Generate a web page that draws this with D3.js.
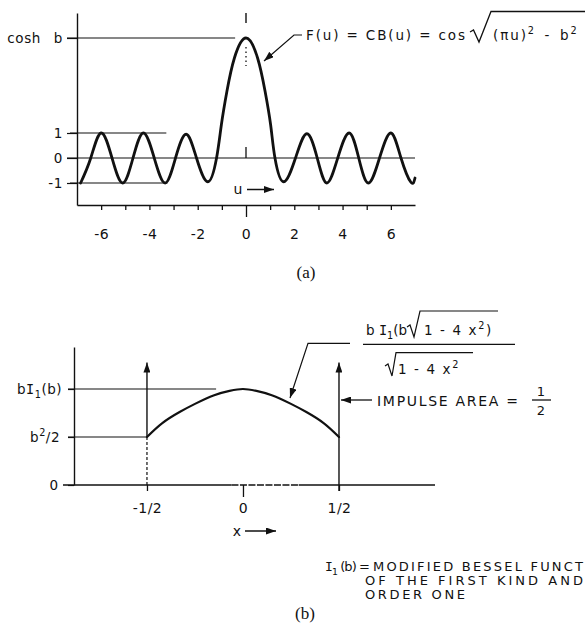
<!DOCTYPE html>
<html>
<head>
<meta charset="utf-8">
<script src="https://cdn.jsdelivr.net/npm/d3@7"></script>
<style>
  html, body { margin: 0; padding: 0; background: #fff; }
  svg { display: block; }
  text { font-family: "DejaVu Sans", sans-serif; fill: #111; }
  .serif { font-family: "Liberation Serif", "DejaVu Serif", serif; }
</style>
</head>
<body>
<svg id="fig" width="585" height="625"></svg>
<script>
// ---------- Panel (a): F(u) = CB(u) = cos sqrt((pi u)^2 - b^2) ----------
const uTicks = [-6, -5, -4, -3, -2, -1, 0, 1, 2, 3, 4, 5, 6];
const uTickLabels = ["-6", "", "-4", "", "-2", "", "0", "", "2", "", "4", "", "6"];
const levelsA = [4.8, 1, 0, -1];                 // cosh b, 1, 0, -1
const levelLabelsA = ["cosh b", "1", "0", "-1"];
// extrema and zero crossings of the pattern
const curveU = [-6.85, -6.43, -6.0, -5.55, -5.11, -4.68, -4.25, -3.8, -3.35, -2.92, -2.48, -2.05,
                -1.58, -1.22, -1.02, -0.79, -0.48, 0, 0.48, 0.79, 1.02, 1.2, 1.56, 2.05,
                2.52, 2.95, 3.35, 3.8, 4.27, 4.67, 5.07, 5.53, 6.0, 6.42, 6.83, 7.0];
const curveF = [-1, 0, 1, 0, -1, 0, 1, 0, -1, 0, 0.95, 0,
                -0.95, 0, 1.33, 2.67, 4.0, 4.8, 4.0, 2.67, 1.33, 0, -0.95, 0,
                0.97, 0, -1, 0, 1, 0, -1, 0, 1, 0, -0.97, -0.8];

// ---------- Panel (b): aperture distribution ----------
const xTicks = [-0.5, 0, 0.5];
const xTickLabels = ["-1/2", "0", "1/2"];
const levelsB = [2, 1, 0];                       // bI1(b), b^2/2, 0
const impulseX = [-0.5, 0.5];
const impulseTop = 2.55;
const curveX = [-0.5, -0.42, -0.33, -0.25, -0.15, -0.07, 0, 0.07, 0.15, 0.25, 0.33, 0.42, 0.5];
const curveG = [1.0, 1.29, 1.52, 1.69, 1.87, 1.96, 2.0, 1.96, 1.87, 1.69, 1.52, 1.29, 1.0];

const svg = d3.select("#fig");
const ink = "#111";

// arrowhead marker
const defs = svg.append("defs");
defs.append("marker")
  .attr("id", "head").attr("viewBox", "0 0 10 7")
  .attr("refX", 10).attr("refY", 3.5)
  .attr("markerUnits", "userSpaceOnUse")
  .attr("markerWidth", 10).attr("markerHeight", 7)
  .attr("orient", "auto")
  .append("path").attr("d", "M0,0 L10,3.5 L0,7 Z").attr("fill", ink);

function line(g, pts, w, opts) {
  const p = g.append("path")
    .attr("d", d3.line()(pts))
    .attr("fill", "none").attr("stroke", ink)
    .attr("stroke-width", w || 1.3);
  if (opts && opts.dash) p.attr("stroke-dasharray", opts.dash);
  if (opts && opts.arrow) p.attr("marker-end", "url(#head)");
  return p;
}

// text with super/subscripts: parts = [[string, "n" | "sup" | "sub", family?]]
function rich(g, x, y, parts, size, anchor) {
  const t = g.append("text").attr("x", x).attr("y", y)
    .attr("font-size", size).attr("text-anchor", anchor || "start");
  let shift = 0;
  parts.forEach(([s, k, fam]) => {
    const target = k === "sup" ? -0.42 * size : k === "sub" ? 0.3 * size : 0;
    const ts = t.append("tspan").attr("dy", target - shift).text(s);
    if (k !== "n") ts.attr("font-size", size * 0.72);
    if (fam) ts.style("font-family", fam);
    shift = target;
  });
  return t;
}

// ================= Panel (a) =================
const gA = svg.append("g");
const xA = d3.scaleLinear().domain([-7, 7]).range([77, 415]);
const yA = d3.scaleLinear().domain([-1.88, 5.8]).range([205, 13]);

// level guides
line(gA, [[xA(-7) - 10, yA(4.8)], [xA(-0.45), yA(4.8)]], 1.2);
line(gA, [[xA(-7) - 7, yA(1)], [xA(-3.3), yA(1)]], 1.2);
line(gA, [[xA(-7) - 10, yA(0)], [xA(7), yA(0)]], 1.2);
line(gA, [[xA(-7) - 7, yA(-1)], [xA(-3.25), yA(-1)]], 1.2);

// left axis
const axA = gA.append("g").attr("transform", `translate(${xA(-7)},0)`)
  .call(d3.axisLeft(yA).tickValues(levelsA).tickSize(10).tickSizeOuter(0).tickFormat(""));
axA.select(".domain").attr("stroke", ink).attr("stroke-width", 1.4);
axA.selectAll(".tick line").attr("stroke", ink).attr("stroke-width", 1.2);
levelsA.forEach((v, i) => {
  gA.append("text").attr("x", 63).attr("y", yA(v) + 5)
    .attr("text-anchor", "end").attr("font-size", 13.5)
    .style("word-spacing", "8px").style("letter-spacing", "0.6px")
    .text(levelLabelsA[i]);
});

// bottom axis
const bxA = gA.append("g").attr("transform", `translate(0,${yA(-1.88)})`)
  .call(d3.axisBottom(xA).tickValues(uTicks).tickSize(5).tickSizeOuter(0).tickPadding(19)
    .tickFormat((d, i) => uTickLabels[i]));
bxA.select(".domain").attr("stroke", ink).attr("stroke-width", 1.4);
bxA.selectAll(".tick line").attr("stroke", ink).attr("stroke-width", 1.3)
  .attr("y2", d => d === 0 ? 12 : 5);
bxA.selectAll(".tick text").attr("font-size", 14).attr("fill", ink)
  .style("font-family", '"DejaVu Sans", sans-serif').style("letter-spacing", "0.5px").attr("dy", "0.71em");
bxA.attr("font-family", null).attr("font-size", null);

// centre markers at u = 0
line(gA, [[xA(0), 13], [xA(0), 23]], 1.4);
line(gA, [[xA(0), 47], [xA(0), 66]], 1.3, { dash: "1.5,3" });
line(gA, [[xA(0), yA(0) - 11], [xA(0), yA(0)]], 1.3);

// the pattern
gA.append("path")
  .attr("d", d3.line().x(d => xA(d[0])).y(d => yA(d[1])).curve(d3.curveNatural)(d3.zip(curveU, curveF)))
  .attr("fill", "none").attr("stroke", ink).attr("stroke-width", 2.8)
  .attr("stroke-linejoin", "round").attr("stroke-linecap", "round");

// u ->
gA.append("text").attr("x", 238).attr("y", 194).attr("text-anchor", "middle").attr("font-size", 14).text("u");
line(gA, [[247, 189.5], [274, 189.5]], 1.5, { arrow: true });

// formula callout
line(gA, [[302, 35], [294, 35], [264, 61]], 1.2, { arrow: true });
gA.append("text").attr("x", 306).attr("y", 39.5).attr("font-size", 13.5)
  .attr("textLength", 159).attr("lengthAdjust", "spacing").text("F(u) = CB(u) = cos");
line(gA, [[470, 32], [473.5, 30], [479, 42], [491, 11.5], [585, 11.5]], 1.3);
rich(gA, 493, 39.5, [["(πu)", "n"], ["2", "sup"], [" - b", "n"], ["2", "sup"]], 13.5)
  .style("letter-spacing", "1.9px").style("word-spacing", "2.5px");

// caption (a)
gA.append("text").attr("class", "serif").attr("x", 306).attr("y", 278)
  .attr("text-anchor", "middle").attr("font-size", 17).text("(a)");

// ================= Panel (b) =================
const gB = svg.append("g");
const xB = d3.scaleLinear().domain([-0.88, 1.0]).range([74, 435]);
const yB = d3.scaleLinear().domain([0, 2.875]).range([485, 347]);

// level guides
line(gB, [[xB(-0.88) - 6, yB(2)], [xB(-0.14), yB(2)]], 1.2);
line(gB, [[xB(-0.88) - 6, yB(1)], [xB(-0.5), yB(1)]], 1.2);

// left axis
const axB = gB.append("g").attr("transform", `translate(${xB(-0.88)},0)`)
  .call(d3.axisLeft(yB).tickValues(levelsB).tickSize(6).tickSizeOuter(0).tickFormat(""));
axB.select(".domain").attr("stroke", ink).attr("stroke-width", 1.4);
axB.selectAll(".tick line").attr("stroke", ink).attr("stroke-width", 1.2);
rich(gB, 62, yB(2) + 5, [["b", "n"], ["I", "n", '"DejaVu Sans Mono", monospace'], ["1", "sub"], ["(b)", "n"]], 13.5, "end")
  .style("letter-spacing", "0.5px");
rich(gB, 60, yB(1) + 5, [["b", "n"], ["2", "sup"], ["/2", "n"]], 13.5, "end")
  .style("letter-spacing", "0.5px");
gB.append("text").attr("x", 58).attr("y", yB(0) + 5).attr("text-anchor", "end").attr("font-size", 13.5).text("0");

// bottom axis: solid, with a broken stretch right of centre
line(gB, [[63, yB(0)], [xB(-0.06), yB(0)]], 1.4);
line(gB, [[xB(-0.06), yB(0)], [xB(0.29), yB(0)]], 1.3, { dash: "7,1.5" });
line(gB, [[xB(0.29), yB(0)], [xB(1.0), yB(0)]], 1.4);

const bxB = gB.append("g").attr("transform", `translate(0,${yB(0)})`)
  .call(d3.axisBottom(xB).tickValues(xTicks).tickSize(6).tickSizeOuter(0).tickPadding(12)
    .tickFormat((d, i) => xTickLabels[i]));
bxB.select(".domain").remove();
bxB.selectAll(".tick line").attr("stroke", ink).attr("stroke-width", 1.3)
  .attr("y2", d => d === 0 ? 12 : 6);
bxB.selectAll(".tick text").attr("font-size", 14).attr("fill", ink)
  .style("font-family", '"DejaVu Sans", sans-serif').style("letter-spacing", "0.5px").attr("dy", "0.71em");
bxB.attr("font-family", null).attr("font-size", null);

// impulses at the aperture edges
line(gB, [[xB(impulseX[0]), yB(1)], [xB(impulseX[0]), yB(impulseTop)]], 1.4, { arrow: true });
line(gB, [[xB(impulseX[0]), yB(1)], [xB(impulseX[0]), yB(0)]], 1.2, { dash: "3,2" });
line(gB, [[xB(impulseX[1]), yB(0) + 6], [xB(impulseX[1]), yB(impulseTop)]], 1.4, { arrow: true });

// the distribution
gB.append("path")
  .attr("d", d3.line().x(d => xB(d[0])).y(d => yB(d[1])).curve(d3.curveNatural)(d3.zip(curveX, curveG)))
  .attr("fill", "none").attr("stroke", ink).attr("stroke-width", 2.2)
  .attr("stroke-linecap", "round");

// x ->
gB.append("text").attr("x", 237).attr("y", 536).attr("text-anchor", "middle").attr("font-size", 14).text("x");
line(gB, [[245, 531], [276, 531]], 1.5, { arrow: true });

// callout to the curve
line(gB, [[350, 343.3], [308, 343.3], [290, 398]], 1.2, { arrow: true });
rich(gB, 366, 335, [["b ", "n"], ["I", "n", '"DejaVu Sans Mono", monospace'], ["1", "sub"], ["(b", "n"]], 13.5);
line(gB, [[407, 327], [410, 325], [414, 337], [420, 311], [498, 311]], 1.2);
rich(gB, 424, 335, [["1 - 4 x", "n"], ["2", "sup"], [")", "n"]], 13.5)
  .style("letter-spacing", "1.6px");
line(gB, [[363, 344.3], [515, 344.3]], 1.3);
line(gB, [[385, 366], [388, 364], [392, 376], [396, 352.7], [473, 352.7]], 1.2);
rich(gB, 398, 374, [["1 - 4 x", "n"], ["2", "sup"]], 13.5).style("letter-spacing", "1.6px");

// impulse annotation
line(gB, [[372, 400], [341, 400]], 1.3, { arrow: true });
gB.append("text").attr("x", 377).attr("y", 406).attr("font-size", 14)
  .attr("textLength", 141).attr("lengthAdjust", "spacing").text("IMPULSE AREA =");
gB.append("text").attr("x", 541).attr("y", 396).attr("text-anchor", "middle").attr("font-size", 13).text("1");
line(gB, [[532, 400], [551, 400]], 1.3);
gB.append("text").attr("x", 541).attr("y", 415).attr("text-anchor", "middle").attr("font-size", 13).text("2");

// definition note
rich(gB, 325, 571, [["I", "n", '"DejaVu Sans Mono", monospace'], ["1", "sub"], [" (b) =", "n"]], 13)
  .attr("textLength", 45).attr("lengthAdjust", "spacing");
gB.append("text").attr("x", 373).attr("y", 571).attr("font-size", 13)
  .attr("textLength", 210).attr("lengthAdjust", "spacing").text("MODIFIED BESSEL FUNCT");
gB.append("text").attr("x", 365).attr("y", 584.5).attr("font-size", 13)
  .attr("textLength", 218).attr("lengthAdjust", "spacing").text("OF THE FIRST KIND AND");
gB.append("text").attr("x", 365).attr("y", 598.5).attr("font-size", 13)
  .attr("textLength", 100).attr("lengthAdjust", "spacing").text("ORDER ONE");

// caption (b)
gB.append("text").attr("class", "serif").attr("x", 305).attr("y", 619)
  .attr("text-anchor", "middle").attr("font-size", 17).text("(b)");
</script>
</body>
</html>
